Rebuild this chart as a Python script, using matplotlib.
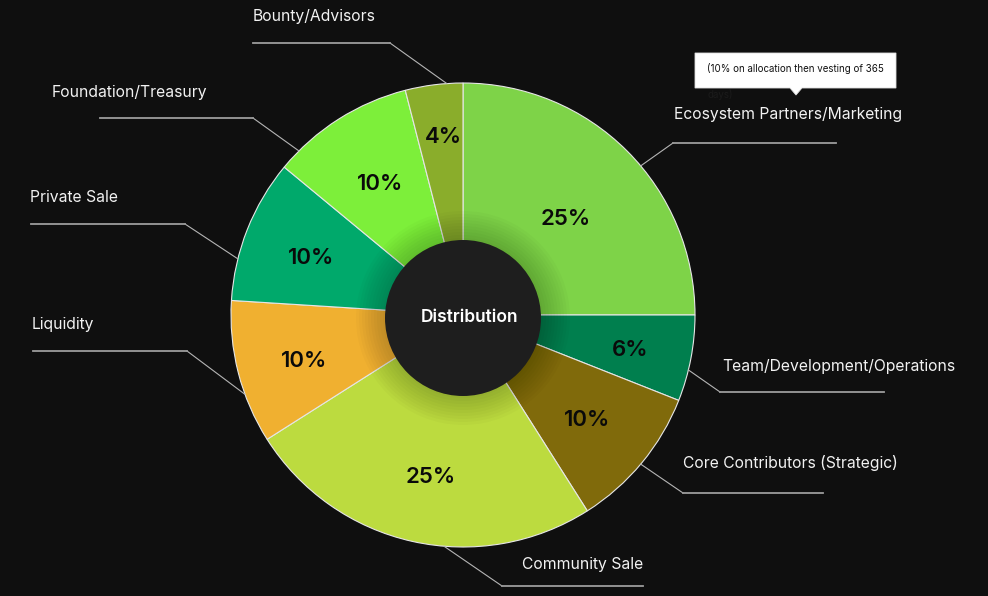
import numpy as np
import matplotlib.pyplot as plt
from matplotlib.patches import Circle, Polygon

# token distribution data
names = ["Ecosystem Partners/Marketing", "Team/Development/Operations",
         "Core Contributors (Strategic)", "Community Sale", "Liquidity",
         "Private Sale", "Foundation/Treasury", "Bounty/Advisors"]
shares = [25, 6, 10, 25, 10, 10, 10, 4]
colors = ["#7ed348", "#007f4e", "#806a0b", "#bcdb3f", "#f0b030",
          "#00a96b", "#7def3a", "#8aad2b"]
center_label = "Distribution"
tooltip_lines = ["(10% on allocation then vesting of 365", "days)"]

# layout (pixel coords, y measured from the top)
W, H = 988, 596
CX, CY, R = 463, 315, 232
pct_radius = [0.61, 0.72, 0.68, 0.70, 0.72, 0.72, 0.69, 0.79]
anchor_deg = [40, -13.7, -40, -94.7, 200, 166, 135, 94]
elbows = [(673, 143), (720, 392), (683, 493), (502, 586),
          (187, 351), (185, 224), (253, 118), (390, 43)]
line_end = [836, 884, 823, 643, 33, 31, 100, 253]
text_pos = [(674, 114, "left"), (722, 367, "left"), (683, 463, "left"),
            (643, 565, "right"), (32, 325, "left"), (30, 198, "left"),
            (52, 92, "left"), (253, 17, "left")]

BG = "#0f0f0f"
plt.rcParams["font.family"] = ["Inter", "DejaVu Sans"]


def Y(y):
    return H - y


fig = plt.figure(figsize=(W / 100, H / 100), dpi=100, facecolor=BG)
ax = fig.add_axes([0, 0, 1, 1])
ax.set_facecolor(BG)

wedges, _ = ax.pie(shares, colors=colors, startangle=90, counterclock=False,
                   radius=R, center=(CX, Y(CY)),
                   wedgeprops=dict(edgecolor="#e6e6e6", linewidth=0.8))

# percentage labels
for w, v, rr in zip(wedges, shares, pct_radius):
    mid = np.deg2rad((w.theta1 + w.theta2) / 2)
    ax.text(CX + 3 + rr * R * np.cos(mid), Y(CY) - 4 + rr * R * np.sin(mid),
            f"{v}%", ha="center", va="center", fontsize=16,
            fontweight="semibold", color="#0a0a0a")

# soft shadow around the centre disc
for k in range(10):
    ax.add_patch(Circle((CX, Y(CY) - 3), 80 + k * 3, color="black",
                        alpha=0.018, lw=0, zorder=3))
ax.add_patch(Circle((CX, Y(CY) - 3), 78, color="#1e1e1e", lw=0, zorder=4))
ax.text(CX + 6, Y(CY) - 2, center_label, ha="center", va="center",
        fontsize=12.5, fontweight="semibold", color="white", zorder=5)

# leader lines and category labels
for name, a, (ex, ey), lx, (tx, ty, al) in zip(names, anchor_deg, elbows,
                                              line_end, text_pos):
    t = np.deg2rad(a)
    px, py = CX + R * np.cos(t), Y(CY) + R * np.sin(t)
    ax.plot([px, ex], [py, Y(ey)], color="#b5b5b5", lw=0.8, zorder=2)
    ax.plot([ex, lx], [Y(ey), Y(ey)], color="#9c9c9c", lw=1.3, zorder=2)
    ax.text(tx, Y(ty), name, ha=al, va="center", fontsize=11.3,
            color="#f2f2f2")

# tooltip box
ax.add_patch(Polygon([(695, Y(53)), (896, Y(53)), (896, Y(88)), (802, Y(88)),
                      (796, Y(95)), (790, Y(88)), (695, Y(88))],
                     closed=True, facecolor="white", edgecolor="#dddddd",
                     lw=0.6, zorder=6))
ax.text(707, Y(69), tooltip_lines[0], fontsize=7, color="#111111",
        va="center", ha="left", zorder=7)
ax.text(707, Y(95), tooltip_lines[1], fontsize=7, color="#1b1b1b",
        va="center", ha="left", zorder=5)

ax.set_xlim(0, W)
ax.set_ylim(0, H)
ax.set_aspect("auto")
ax.axis("off")

fig.savefig("out.png", dpi=100, facecolor=BG)
